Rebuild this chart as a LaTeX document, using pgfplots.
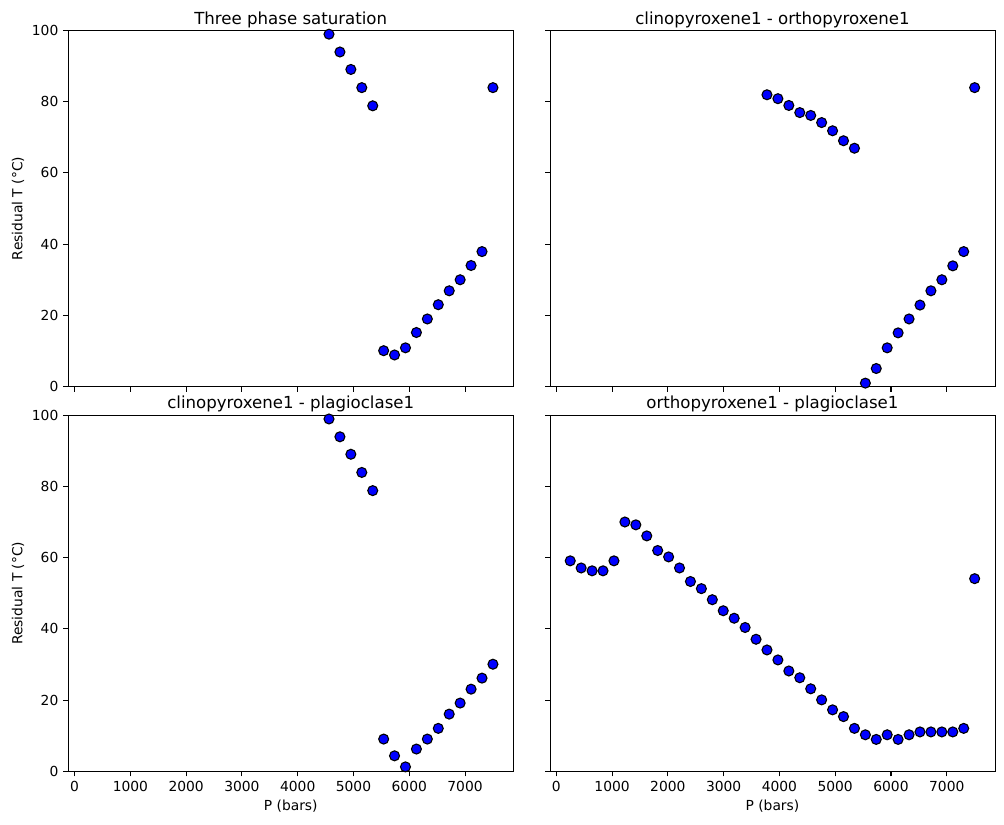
\documentclass[border=0pt]{standalone}
\usepackage{fontspec}
\setmainfont{DejaVu Sans}
\usepackage{pgfplots}
\pgfplotsset{compat=1.18}

\pgfplotstableread{
P y
4561 98.9
4757 93.9
4953 89.0
5149 83.9
5345 78.8
5541 10.1
5736 8.9
5932 10.9
6128 15.2
6324 19.0
6520 23.0
6716 26.9
6912 30.0
7108 34.0
7304 37.9
7500 83.9
}\threephase

\pgfplotstableread{
P y
3777 81.9
3973 80.8
4169 78.9
4365 76.9
4561 76.1
4757 74.1
4953 71.8
5149 69.0
5345 66.9
5541 1.0
5736 5.1
5932 10.9
6128 15.1
6324 19.0
6520 22.9
6716 26.9
6912 30.0
7108 33.9
7304 37.9
7500 83.9
}\cpxopx

\pgfplotstableread{
P y
4561 98.9
4757 93.9
4953 89.0
5149 83.9
5345 78.8
5541 9.1
5736 4.4
5932 1.3
6128 6.3
6324 9.1
6520 12.1
6716 16.1
6912 19.2
7108 23.1
7304 26.2
7500 30.1
}\cpxplag

\pgfplotstableread{
P y
250 59.1
446 57.1
642 56.3
838 56.3
1034 59.1
1230 70.0
1426 69.2
1622 66.1
1818 62.0
2014 60.2
2209 57.1
2405 53.3
2601 51.3
2797 48.2
2993 45.1
3189 43.0
3385 40.4
3581 37.1
3777 34.1
3973 31.3
4169 28.2
4365 26.3
4561 23.2
4757 20.1
4953 17.3
5149 15.4
5345 12.1
5541 10.3
5736 9.0
5932 10.3
6128 9.0
6324 10.3
6520 11.1
6716 11.1
6912 11.1
7108 11.1
7304 12.1
7500 54.1
}\opxplag

\pgfplotsset{
  panel/.style={
    scale only axis, width=321.5pt, height=257.6pt,
    xmin=-112.5, xmax=7862.5, ymin=0, ymax=100,
    xtick={0,1000,...,7000}, ytick={0,20,...,100},
    tick align=outside, tick pos=left, major tick length=3.5pt,
    every tick/.style={line width=0.8pt, black},
    /pgf/number format/assume math mode=true,
    /pgf/number format/set thousands separator={},
    ticklabel style={font=\fontsize{10}{12}\selectfont, inner sep=0pt},
    xticklabel style={yshift=-3.5pt},
    yticklabel style={xshift=-3.5pt},
    title style={at={(0.5,1)}, anchor=base, yshift=-1.5pt, font=\fontsize{12}{14}\selectfont},
    xlabel style={font=\fontsize{10}{12}\selectfont, at={(axis description cs:0.5,0)}, anchor=center, yshift=-25pt},
    ylabel style={font=\fontsize{10}{12}\selectfont, at={(axis description cs:0,0.5)}, anchor=center, yshift=36.4pt},
  },
  dots/.style={only marks, mark=*, mark size=3.6pt, mark options={fill=blue, draw=black, line width=0.8pt}},
}

\begin{document}
\begin{tikzpicture}
\path[use as bounding box] (0,0) rectangle (725.59pt,595.50pt);

\begin{axis}[panel, at={(49.36pt,316.04pt)}, anchor=south west,
  title={Three phase saturation}, ylabel={Residual T (°C)}, xticklabels={}]
\addplot[dots] table[x=P,y=y] {\threephase};
\end{axis}

\begin{axis}[panel, at={(397.49pt,316.04pt)}, anchor=south west,
  title={clinopyroxene1 - orthopyroxene1}, xticklabels={}, yticklabels={}]
\addplot[dots] table[x=P,y=y] {\cpxopx};
\end{axis}

\begin{axis}[panel, at={(49.36pt,37.94pt)}, anchor=south west,
  title={clinopyroxene1 - plagioclase1}, ylabel={Residual T (°C)}, xlabel={P (bars)}]
\addplot[dots] table[x=P,y=y] {\cpxplag};
\end{axis}

\begin{axis}[panel, at={(397.49pt,37.94pt)}, anchor=south west,
  title={orthopyroxene1 - plagioclase1}, xlabel={P (bars)}, yticklabels={}]
\addplot[dots] table[x=P,y=y] {\opxplag};
\end{axis}
\end{tikzpicture}
\end{document}
